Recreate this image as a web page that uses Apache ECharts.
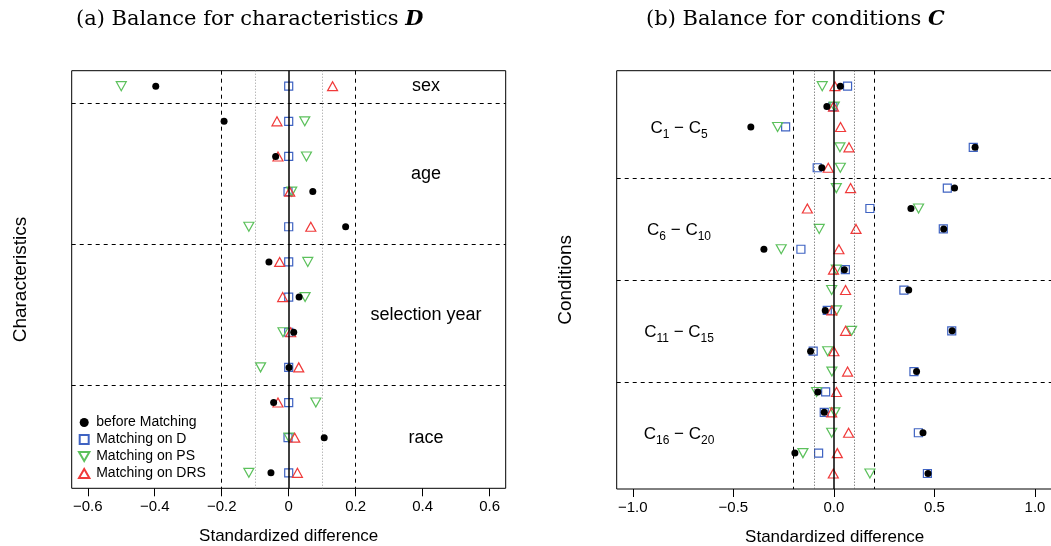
<!DOCTYPE html>
<html>
<head>
<meta charset="utf-8">
<script src="https://cdn.jsdelivr.net/npm/echarts@6/dist/echarts.min.js"></script>
<style>
html,body{margin:0;padding:0;background:#fff;}
#chart{width:1051px;height:546px;}
</style>
</head>
<body>
<div id="chart"></div>
<script>
// ---------- data ----------
var seriesNames = ['before Matching', 'Matching on D', 'Matching on PS', 'Matching on DRS'];

// Panel (a): 12 rows (sex; age x4; selection year x4; race x3)
var charBefore = [-0.397, -0.193, -0.039, 0.072, 0.170, -0.059, 0.031, 0.015, 0.001, -0.045, 0.106, -0.053];
var charD      = [0.000, 0.000, 0.000, -0.002, 0.000, 0.000, 0.000, 0.000, 0.000, 0.000, -0.002, 0.000];
var charPS     = [-0.500, 0.048, 0.053, 0.009, -0.119, 0.057, 0.049, -0.017, -0.084, 0.081, 0.001, -0.119];
var charDRS    = [0.131, -0.035, -0.032, 0.003, 0.066, -0.027, -0.018, 0.006, 0.030, -0.032, 0.018, 0.026];
var charGroups = ['sex', 'age', 'selection year', 'race'];
var charGroupCenter = [1, 3.5, 7.5, 11];
var charSeparators = [1.5, 5.5, 9.5];

// Panel (b): 20 conditions C1..C20
var condBefore = [0.032, -0.035, -0.413, 0.702, -0.060, 0.600, 0.383, 0.546, -0.348, 0.052,
                  0.372, -0.043, 0.588, -0.116, 0.411, -0.080, -0.048, 0.443, -0.194, 0.468];
var condD      = [0.068, -0.005, -0.240, 0.693, -0.083, 0.564, 0.179, 0.544, -0.164, 0.057,
                  0.348, -0.033, 0.586, -0.103, 0.398, -0.041, -0.048, 0.420, -0.076, 0.465];
var condPS     = [-0.058, 0.002, -0.280, 0.030, 0.032, 0.012, 0.421, -0.073, -0.262, 0.012,
                  -0.011, 0.013, 0.088, -0.031, -0.010, -0.086, 0.005, -0.011, -0.154, 0.179];
var condDRS    = [0.005, -0.002, 0.033, 0.075, -0.028, 0.083, -0.132, 0.110, 0.025, -0.002,
                  0.058, -0.010, 0.058, 0.000, 0.068, 0.013, -0.011, 0.073, 0.017, -0.003];
var condGroups = [['1', '5'], ['6', '10'], ['11', '15'], ['16', '20']];
var condGroupCenter = [3, 8, 13, 18];
var condSeparators = [5.5, 10.5, 15.5];

var charTicks = [-0.6, -0.4, -0.2, 0, 0.2, 0.4, 0.6];
var condTicks = [-1.0, -0.5, 0.0, 0.5, 1.0];
var refDashed = [-0.2, 0.2];
var refDotted = [-0.1, 0.1];

// ---------- helpers ----------
function rows(vals) { return vals.map(function (v, i) { return [v, i + 1]; }); }
function fmtMinus(s) { return s.replace('-', '\u2212'); }

var sans = 'Liberation Sans, Arial, sans-serif';
var colBlack = '#000000', colBlue = '#3f63c2', colGreen = '#5cc15c', colRed = '#f03a3a';
var square = 'path://M0,0 L10,0 L10,10 L0,10 Z';
var downTri = 'path://M0,0 L10,0 L5,8.66 Z';
var upTri = 'path://M5,0 L10,8.66 L0,8.66 Z';

function markerSeries(name, data, idx) {
  var cfg = {
    'before Matching': { symbol: 'circle', size: 7, style: { color: colBlack, opacity: 1 } },
    'Matching on D': { symbol: square, size: 8, style: { color: 'rgba(0,0,0,0)', borderColor: colBlue, borderWidth: 1.2, opacity: 1 } },
    'Matching on PS': { symbol: downTri, size: [10, 9], style: { color: 'rgba(0,0,0,0)', borderColor: colGreen, borderWidth: 1.2, opacity: 1 } },
    'Matching on DRS': { symbol: upTri, size: [10, 9], style: { color: 'rgba(0,0,0,0)', borderColor: colRed, borderWidth: 1.2, opacity: 1 } }
  }[name];
  return {
    type: 'scatter', name: name, xAxisIndex: idx, yAxisIndex: idx,
    data: data, symbol: cfg.symbol, symbolSize: cfg.size, itemStyle: cfg.style,
    z: name === 'before Matching' ? 5 : 4, silent: true, animation: false
  };
}

function refLineSeries(idx, seps) {
  var ml = [];
  seps.forEach(function (s) { ml.push({ yAxis: s, lineStyle: { type: [4, 4], color: '#000', width: 1 } }); });
  refDashed.forEach(function (s) { ml.push({ xAxis: s, lineStyle: { type: [4, 4], color: '#000', width: 1 } }); });
  refDotted.forEach(function (s) { ml.push({ xAxis: s, lineStyle: { type: [1, 2], color: idx === 0 ? '#9a9a9a' : '#555', width: 1 } }); });
  ml.push({ xAxis: 0, lineStyle: { type: 'solid', color: '#000', width: 1.5 } });
  return {
    type: 'scatter', xAxisIndex: idx, yAxisIndex: idx, data: [], silent: true, animation: false,
    markLine: { symbol: ['none', 'none'], silent: true, animation: false, label: { show: false }, data: ml }, z: 1
  };
}

var labelSeriesA = {
  type: 'scatter', xAxisIndex: 0, yAxisIndex: 0, symbolSize: 0, silent: true, animation: false,
  itemStyle: { opacity: 1 },
  data: charGroups.map(function (g, i) { return { value: [0.41, charGroupCenter[i]], name: g }; }),
  label: { show: true, position: 'inside', formatter: '{b}', color: '#000', opacity: 1, fontSize: 18, fontFamily: sans }
};
var labelSeriesB = {
  type: 'scatter', xAxisIndex: 1, yAxisIndex: 1, symbolSize: 0, silent: true, animation: false,
  itemStyle: { opacity: 1 },
  data: condGroups.map(function (g, i) { return { value: [-0.77, condGroupCenter[i]], name: g[0] + '|' + g[1] }; }),
  label: {
    show: true, position: 'inside', color: '#000', opacity: 1,
    formatter: function (p) { var g = p.name.split('|'); return '{n|C}{s|' + g[0] + '}{n| \u2212 C}{s|' + g[1] + '}'; },
    rich: {
      n: { fontSize: 17, fontFamily: sans, color: '#000', verticalAlign: 'bottom', lineHeight: 20 },
      s: { fontSize: 12, fontFamily: sans, color: '#000', verticalAlign: 'bottom', lineHeight: 14, padding: [0, 0, -4, 0] }
    }
  }
};

function xAxisCfg(idx, min, max, ticks, fmt) {
  return {
    type: 'value', gridIndex: idx, min: min, max: max,
    splitLine: { show: false },
    axisLine: { show: false },
    axisTick: { show: true, length: 8, customValues: ticks, lineStyle: { color: '#000', width: 1 } },
    axisLabel: { show: true, customValues: ticks, margin: 11, formatter: fmt, fontSize: 15, color: '#000', fontFamily: sans },
    name: 'Standardized difference', nameLocation: 'middle', nameGap: 40,
    nameTextStyle: { fontSize: 17, color: '#000', fontFamily: sans }
  };
}
function yAxisCfg(idx, min, max, name, gap) {
  return {
    type: 'value', gridIndex: idx, min: min, max: max, inverse: true,
    axisLine: { show: false }, axisTick: { show: false }, axisLabel: { show: false }, splitLine: { show: false },
    name: name, nameLocation: 'middle', nameGap: gap, nameRotate: 90,
    nameTextStyle: { fontSize: 19, color: '#000', fontFamily: sans }
  };
}

var series = [
  refLineSeries(0, charSeparators),
  refLineSeries(1, condSeparators),
  markerSeries('Matching on D', rows(charD), 0),
  markerSeries('Matching on PS', rows(charPS), 0),
  markerSeries('Matching on DRS', rows(charDRS), 0),
  markerSeries('before Matching', rows(charBefore), 0),
  markerSeries('Matching on D', rows(condD), 1),
  markerSeries('Matching on PS', rows(condPS), 1),
  markerSeries('Matching on DRS', rows(condDRS), 1),
  markerSeries('before Matching', rows(condBefore), 1),
  labelSeriesA, labelSeriesB
];

var titleFont = 'DejaVu Serif, Liberation Serif, serif';
function titleStyle() {
  return { fontSize: 21, fontWeight: 'normal', color: '#000', fontFamily: titleFont,
    rich: { m: { fontSize: 21, fontWeight: 'bold', fontStyle: 'italic', color: '#000', fontFamily: titleFont } } };
}
var option = {
  animation: false,
  backgroundColor: '#ffffff',
  title: [
    { text: '(a) Balance for characteristics {m|D}', left: 76, top: 9, padding: 0, textStyle: titleStyle() },
    { text: '(b) Balance for conditions {m|C}', left: 646, top: 9, padding: 0, textStyle: titleStyle() }
  ],
  legend: {
    data: seriesNames, orient: 'vertical', left: 78, top: 415.5, itemGap: 3, padding: 0,
    itemWidth: 14, itemHeight: 9, selectedMode: false,
    textStyle: { fontSize: 14, color: '#000', fontFamily: sans }
  },
  grid: [
    { left: 71.7, top: 70.7, width: 434, height: 417.6, show: true, borderColor: '#000', borderWidth: 1,
      backgroundColor: 'transparent', outerBoundsMode: 'none', containLabel: false },
    { left: 616.7, top: 70.7, width: 436, height: 418.3, show: true, borderColor: '#000', borderWidth: 1,
      backgroundColor: 'transparent', outerBoundsMode: 'none', containLabel: false }
  ],
  xAxis: [
    xAxisCfg(0, -0.648, 0.648, charTicks, function (v) { return v === 0 ? '0' : fmtMinus(v.toFixed(1)); }),
    xAxisCfg(1, -1.08, 1.088, condTicks, function (v) { return fmtMinus(v.toFixed(1)); })
  ],
  yAxis: [
    yAxisCfg(0, 0.56, 12.44, 'Characteristics', 41),
    yAxisCfg(1, 0.24, 20.76, 'Conditions', 41)
  ],
  series: series
};

var chart = echarts.init(document.getElementById('chart'), null, { renderer: 'canvas' });
chart.setOption(option);
</script>
</body>
</html>
